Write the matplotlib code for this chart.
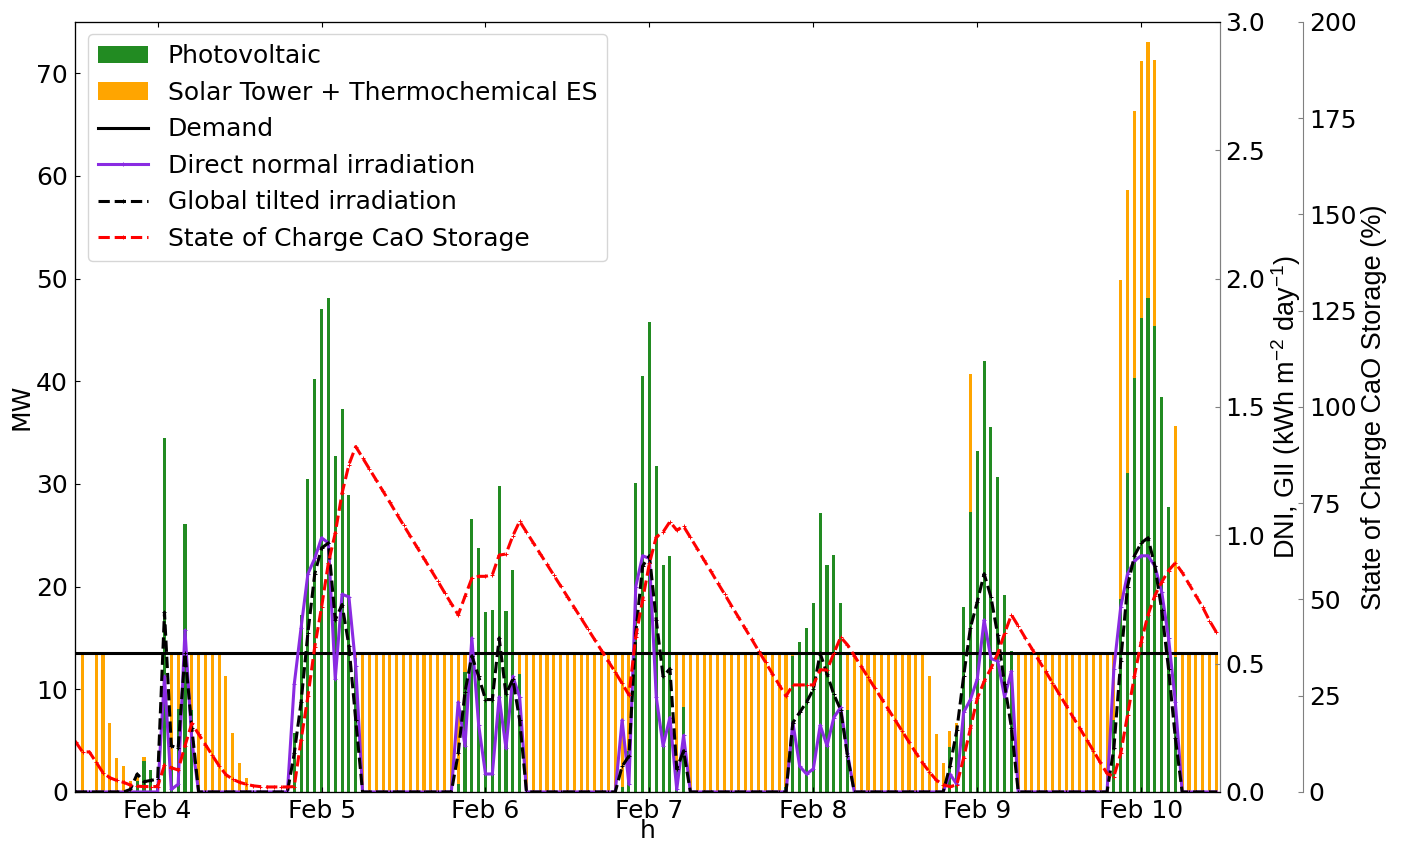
import matplotlib

matplotlib.use("Agg")
import matplotlib.dates as mdates
import matplotlib.pyplot as plt
import pandas as pd

# hourly series, Feb 3 12:00 -> Feb 10 11:00 (168 h)
times = pd.date_range("2019-02-03 12:00", periods=168, freq="h")

# MW
pv_mw = (
    [0, 0, 0, 0, 0, 0, 0, 0, 0, 1.1, 3.0, 2.1]
    + [0.8, 34.5, 2.5, 8.1, 26.1, 8.0] + [0] * 14 + [5.7, 17.2, 30.5, 40.2]
    + [47.0, 48.1, 32.7, 37.3, 28.9, 13.0] + [0] * 14 + [0.8, 11.7, 26.6, 23.8]
    + [17.5, 17.7, 29.8, 17.6, 21.6, 11.5] + [0] * 14 + [0.5, 4.0, 30.1, 40.5]
    + [45.8, 31.7, 22.1, 23.0, 2.0, 8.3] + [0] * 14 + [0.5, 13.2, 14.6, 16.0]
    + [18.4, 27.2, 22.1, 23.1, 18.4, 8.0] + [0] * 14 + [4.4, 6.0, 18.0, 27.3]
    + [33.2, 42.0, 35.5, 30.7, 19.2, 13.7] + [0] * 14 + [7.0, 18.8, 31.1, 40.3]
    + [46.2, 48.1, 45.4, 38.5, 27.8, 13.1] + [0] * 6
)
csp_mw = (
    [0, 13.5, 0, 13.5, 13.5, 6.7, 3.3, 2.5, 1.1, 0.5, 0.4, 0]
    + [0, 0, 11.0, 5.4, 0, 5.5, 13.5, 13.5, 13.5, 13.5, 11.3, 5.7, 2.8, 1.4] + [0] * 10
    + [0] * 5 + [0.5] + [13.5] * 14 + [12.7, 1.8, 0, 0]
    + [0] * 5 + [2.0] + [13.5] * 14 + [13.0, 9.5, 0, 0]
    + [0] * 4 + [11.5, 5.2] + [13.5] * 14 + [13.0, 0.3, 0, 0]
    + [0] * 5 + [5.5] + [13.5] * 11 + [11.3, 5.6, 2.8, 1.5, 0.7, 0, 13.4]
    + [0] * 6 + [13.5] * 14 + [6.5, 31.1, 27.5, 26.0]
    + [25.0, 24.9, 25.9, 0, 0, 22.5] + [13.5] * 6
)
demand_mw = [13.5] * 168

# kWh m-2 day-1
dni = (
    [0] * 12
    + [0, 0.45, 0.01, 0.03, 0.63, 0.2] + [0] * 14 + [0.42, 0.64, 0.85, 0.91]
    + [0.99, 0.97, 0.44, 0.77, 0.76, 0.49] + [0] * 14 + [0.35, 0.18, 0.60, 0.26]
    + [0.07, 0.07, 0.37, 0.17, 0.45, 0.37] + [0] * 14 + [0.28, 0.03, 0.80, 0.92]
    + [0.91, 0.37, 0.18, 0.29, 0.01, 0.22] + [0] * 14 + [0, 0.27, 0.10, 0.07]
    + [0.09, 0.26, 0.18, 0.29, 0.33, 0.15] + [0] * 14 + [0.07, 0.03, 0.31, 0.36]
    + [0.44, 0.67, 0.52, 0.51, 0.37, 0.47] + [0] * 14 + [0.48, 0.72, 0.85, 0.90]
    + [0.92, 0.92, 0.88, 0.78, 0.60, 0.35] + [0] * 6
)
gii = (
    [0] * 8 + [0.01, 0.07, 0.04, 0.045]
    + [0.05, 0.70, 0.18, 0.17, 0.54, 0.25] + [0] * 14 + [0.15, 0.35, 0.62, 0.85]
    + [0.95, 0.97, 0.67, 0.73, 0.57, 0.28] + [0] * 14 + [0.15, 0.39, 0.53, 0.45]
    + [0.36, 0.36, 0.60, 0.38, 0.44, 0.28] + [0] * 14 + [0.10, 0.14, 0.62, 0.88]
    + [0.92, 0.67, 0.45, 0.48, 0.09, 0.16] + [0] * 14 + [0, 0.27, 0.31, 0.35]
    + [0.40, 0.54, 0.46, 0.38, 0.32, 0.14] + [0] * 14 + [0.10, 0.24, 0.45, 0.64]
    + [0.74, 0.85, 0.76, 0.61, 0.42, 0.25] + [0] * 14 + [0.17, 0.51, 0.80, 0.92]
    + [0.97, 0.99, 0.88, 0.71, 0.48, 0.21] + [0] * 6
)

# %
soc = (
    [13.0, 10.4, 10.4, 7.7, 5.0, 3.7, 3.0, 2.5, 1.8, 1.5, 1.4, 1.4]
    + [1.4, 7.0, 6.3, 5.7, 12.0, 17.8, 15.0, 12.3, 9.5, 6.8, 4.5, 3.3,
       2.5, 2.0, 1.6, 1.4, 1.3, 1.3, 1.3, 1.3, 1.4, 13.5, 24.8, 37.7]
    + [48.0, 59.5, 67.2, 77.6, 85.0, 89.7, 86.8, 83.9, 81.0, 78.1, 75.2, 72.2,
       69.3, 66.4, 63.5, 60.6, 57.7, 54.8, 51.8, 48.9, 46.0, 50.8, 55.5, 56.0]
    + [56.0, 56.4, 61.5, 61.8, 66.5, 70.3, 67.5, 64.7, 61.9, 59.1, 56.3, 53.5,
       50.7, 47.9, 45.1, 42.3, 39.5, 36.7, 33.9, 31.1, 28.2, 25.2, 40.3, 49.9]
    + [59.4, 66.2, 67.5, 70.2, 68.0, 69.0, 66.1, 63.2, 60.2, 57.3, 54.3, 51.4,
       48.4, 45.5, 42.5, 39.6, 36.6, 33.7, 30.7, 27.8, 24.9, 27.8, 27.8, 27.8]
    + [27.8, 31.7, 31.7, 36.0, 40.2, 38.2, 35.4, 32.6, 29.8, 27.0, 24.2, 21.4,
       18.6, 15.8, 13.0, 10.2, 7.5, 5.2, 3.1, 1.9, 1.4, 1.8, 8.8, 16.5]
    + [24.3, 28.7, 32.1, 36.0, 41.2, 46.0, 43.1, 40.1, 37.2, 34.2, 31.3, 28.4,
       25.4, 22.5, 19.5, 16.6, 13.6, 10.7, 7.7, 4.8, 4.0, 10.0, 20.0, 30.0]
    + [39.0, 46.0, 51.0, 54.5, 57.5, 59.5, 57.0, 54.0, 51.0, 48.0, 44.5, 41.5]
)

tick_dates = pd.date_range("2019-02-04", periods=7, freq="D")
tick_labels = ["Feb 4", "Feb 5", "Feb 6", "Feb 7", "Feb 8", "Feb 9", "Feb 10"]

narrow = ["Liberation Sans", "DejaVu Sans"]
plt.rcParams.update({
    "font.size": 18,
    "mathtext.fontset": "custom",
    "mathtext.rm": "Liberation Sans",
    "mathtext.default": "rm",
})


def main() -> None:
    x = mdates.date2num(times.to_pydatetime())
    hour = 1 / 24

    fig = plt.figure(figsize=(14.02, 8.41), dpi=100)
    ax = fig.add_axes([0.0535, 0.0583, 0.8165, 0.9157])
    ax2 = ax.twinx()
    ax3 = ax.twinx()

    b1 = ax.bar(x, pv_mw, width=0.45 * hour, color="forestgreen", label="Photovoltaic")
    b2 = ax.bar(x, csp_mw, width=0.45 * hour, bottom=pv_mw, color="orange",
                label="Solar Tower + Thermochemical ES")
    l1, = ax.plot(x, demand_mw, color="black", lw=2.2, label="Demand")

    mk = dict(marker="+", ms=3, mew=0.7)
    l2, = ax2.plot(x, dni, color="blueviolet", lw=2.2,
                   label="Direct normal irradiation", **mk)
    l3, = ax2.plot(x, gii, color="black", lw=2.2, ls="--",
                   label="Global tilted irradiation", **mk)
    l4, = ax3.plot(x, soc, color="red", lw=2.2, ls="--",
                   label="State of Charge CaO Storage", **mk)

    # axes ranges
    ax.set_xlim(x[0] - 0.1 * hour, x[-1] + 0.5 * hour)
    ax.set_ylim(0, 75)
    ax2.set_ylim(0, 3)
    ax3.set_ylim(0, 200)
    ax.set_xticks(mdates.date2num(tick_dates.to_pydatetime()))
    ax.set_xticklabels(tick_labels)
    ax2.set_yticks([0, 0.5, 1.0, 1.5, 2.0, 2.5, 3.0])
    ax3.set_yticks(range(0, 201, 25))

    # aesthetics
    ax.set_xlabel("h", labelpad=-3)
    ax.set_ylabel("MW", labelpad=2)
    ax2.set_ylabel(r"DNI, GII (kWh m$^{-2}$ day$^{-1}$)", family=narrow,
                   fontsize=19.5, labelpad=3)
    ax3.set_ylabel("State of Charge CaO Storage (%)", family=narrow,
                   fontsize=19.5, labelpad=3)
    ax3.spines["right"].set_position(("axes", 1.073))
    for a in (ax, ax2, ax3):
        a.spines["right"].set_color("gray")
    ax.tick_params(axis="both", direction="in", labelsize=18, pad=5)
    ax.tick_params(axis="x", top=True)
    for a in (ax2, ax3):
        a.tick_params(axis="y", direction="in", labelsize=18, color="gray", pad=4)

    ax3.legend(handles=[b1, b2, l1, l2, l3, l4], loc="upper left", fontsize=18)

    fig.savefig("out.png", dpi=100)


if __name__ == "__main__":
    main()
